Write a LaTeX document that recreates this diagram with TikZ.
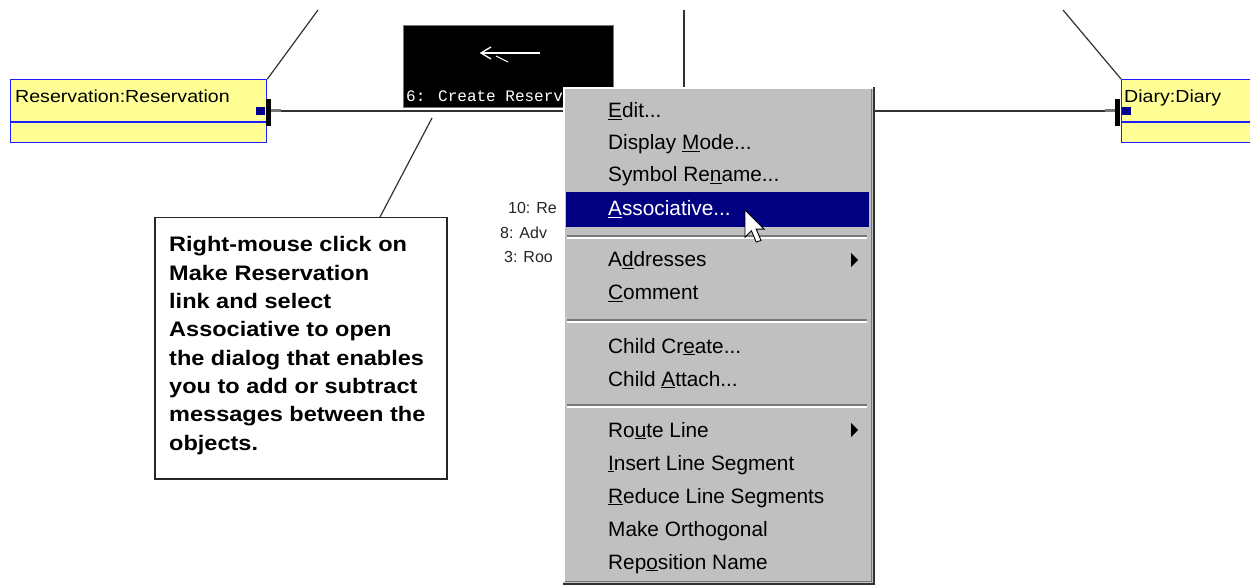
\documentclass[tikz,border=0pt]{standalone}
\usepackage{fontspec}
\setmainfont{Liberation Sans}
\newfontfamily\labelmono{Liberation Mono}
\newfontfamily\widesans[FakeStretch=1.12]{Liberation Sans}
\usetikzlibrary{arrows.meta}

\definecolor{objyellow}{RGB}{255,255,150}
\definecolor{objblue}{RGB}{30,30,255}
\definecolor{menugrey}{RGB}{192,192,192}
\definecolor{menudark}{RGB}{120,120,120}
\definecolor{selnavy}{RGB}{0,0,128}
\definecolor{linkgrey}{RGB}{50,50,50}
\definecolor{portnavy}{RGB}{0,0,140}

% underlined access key of a menu entry
\newcommand\acckey[1]{\underline{#1}}

\begin{document}
\begin{tikzpicture}[x=1pt,y=-1pt,
  objbox/.style={draw=objblue, line width=1.4pt, fill=objyellow, inner sep=0pt, anchor=north west},
  objtext/.style={anchor=base west, inner sep=0pt, font=\widesans\fontsize{17.5}{20}\selectfont},
  link/.style={draw=linkgrey, line width=1.3pt},
  thinlink/.style={draw=linkgrey, line width=1.2pt},
  menuitem/.style={anchor=base west, inner sep=0pt, font=\fontsize{20.8}{24}\selectfont, text=black},
  calltext/.style={anchor=base west, inner sep=0pt, font=\widesans\bfseries\fontsize{21}{24}\selectfont},
  msglabel/.style={anchor=base west, inner sep=0pt, font=\fontsize{16}{18}\selectfont, text=black!85},
  sepdark/.style={draw=menudark, line width=1.2pt},
  seplight/.style={draw=white, line width=1.2pt},
  subarrow/.style={fill=black, draw=none}
]
\useasboundingbox[fill=white] (0,0) rectangle (1250,585);

% ---------- object boxes ----------
\node[objbox, minimum width=256pt, minimum height=63pt] (res) at (10,79) {};
\draw[objblue, line width=1.4pt] (10,122) -- (266,122);
\node[objtext] (resname) at (15,103) {Reservation:Reservation};

\node[objbox, minimum width=129pt, minimum height=63pt] (diary) at (1121,79) {};
\draw[objblue, line width=1.4pt] (1121,122) -- (1250,122);
\node[objtext] (diaryname) at (1124,103) {Diary:Diary};

% ---------- links leaving the objects ----------
\coordinate (resport) at (272,111);
\coordinate (diaryport) at (1114,111);
\coordinate (topA) at (318,10);
\coordinate (topB) at (684,10);
\coordinate (topC) at (1063,10);

\draw[link] (resport) -- (diaryport);
\draw[thinlink] (res.north east) -- (topA);
\draw[thinlink] (diary.north west) -- (topC);

% ports on the link ends
\fill[portnavy] (256,107) rectangle (265,115);
\fill[black] (266,99) rectangle (271,126);
\draw[menudark, line width=3pt] (271,111) -- (281,111);
\fill[portnavy] (1122,107) rectangle (1131,115);
\fill[black] (1115,99) rectangle (1120,126);
\draw[menudark, line width=3pt] (1105,111) -- (1115,111);

% ---------- selected message label ----------
\node[fill=black, draw=menudark, line width=0.8pt, inner sep=0pt, anchor=north west,
      minimum width=210pt, minimum height=82pt] (msgbox) at (403,25) {};
\draw[white, line width=1.5pt] (540,53) -- (481,53);
\draw[white, line width=1.3pt] (491,47) -- (481,53) -- (491,59);
\draw[white, line width=1.1pt] (496,56) -- (508,62);
\node[anchor=base west, inner sep=0pt, text=white,
      font=\labelmono\fontsize{16}{18}\selectfont] (msgtext) at (406,102) {6: Create Reserv};

% ---------- callout ----------
\node[draw=black!85, line width=1.5pt, fill=white, inner sep=0pt, anchor=north west,
      minimum width=292pt, minimum height=261pt] (callout) at (154,217) {};
\coordinate (ptr) at (432,118);
\coordinate (ptrend) at (380,217);
\draw[thinlink] (ptr) -- (ptrend);

\foreach \t [count=\i] in {Right-mouse click on, Make Reservation, link and select,
    Associative to open, the dialog that enables, you to add or subtract,
    messages between the, objects.}
  \node[calltext] (call\i) at (169,{252+28.3*(\i-1)}) {\t};

% ---------- other message labels ----------
\node[msglabel] (m10) at (508,214) {10: Re};
\node[msglabel] (m8) at (500,239) {8: Adv};
\node[msglabel] (m3) at (504,263) {3: Roo};

% ---------- context menu ----------
\node[fill=menugrey, draw=none, inner sep=0pt, anchor=north west,
      minimum width=312pt, minimum height=496pt] (menu) at (563,87) {};
\draw[white, line width=1.5pt] (564,582) -- (564,88) -- (873,88);
\draw[black!80, line width=2.5pt] (874,87) -- (874,584) -- (563,584);
\draw[menudark, line width=1pt] (871,89) -- (871,581) -- (565,581);
\draw[thinlink] (topB) -- (topB |- menu.north);

% highlighted entry
\fill[selnavy] (566,192) rectangle (869,227);

% separators
\foreach \y in {236,320,405} {
  \draw[sepdark] (567,\y) -- (867,\y);
  \draw[seplight] (567,\y+2) -- (867,\y+2);
}

% submenu arrows
\fill[subarrow] (851,253) -- (858,260) -- (851,267) -- cycle;
\fill[subarrow] (851,423) -- (858,430) -- (851,437) -- cycle;

% entries
\node[menuitem] (iEdit) at (608,118) {\acckey{E}dit...};
\node[menuitem] (iDisp) at (608,150) {Display \acckey{M}ode...};
\node[menuitem] (iSym)  at (608,182) {Symbol Re\acckey{n}ame...};
\node[menuitem, text=white] (iAssoc) at (608,216) {\acckey{A}ssociative...};
\node[menuitem] (iAddr) at (608,267) {A\acckey{d}dresses};
\node[menuitem] (iComm) at (608,300) {\acckey{C}omment};
\node[menuitem] (iCC)   at (608,353) {Child Cr\acckey{e}ate...};
\node[menuitem] (iCA)   at (608,386) {Child \acckey{A}ttach...};
\node[menuitem] (iRoute) at (608,437) {Ro\acckey{u}te Line};
\node[menuitem] (iIns)  at (608,470) {\acckey{I}nsert Line Segment};
\node[menuitem] (iRed)  at (608,503) {\acckey{R}educe Line Segments};
\node[menuitem] (iOrth) at (608,536) {Make Orthogonal};
\node[menuitem] (iRepos) at (608,569) {Rep\acckey{o}sition Name};

% mouse pointer
\begin{scope}[shift={(745,210)}, scale=1.6]
  \draw[fill=white, draw=black, line width=0.9pt, line join=miter]
    (0,0) -- (0,17) -- (4,13) -- (7,20) -- (10,19) -- (7,12) -- (12,12) -- cycle;
\end{scope}
\end{tikzpicture}
\end{document}
